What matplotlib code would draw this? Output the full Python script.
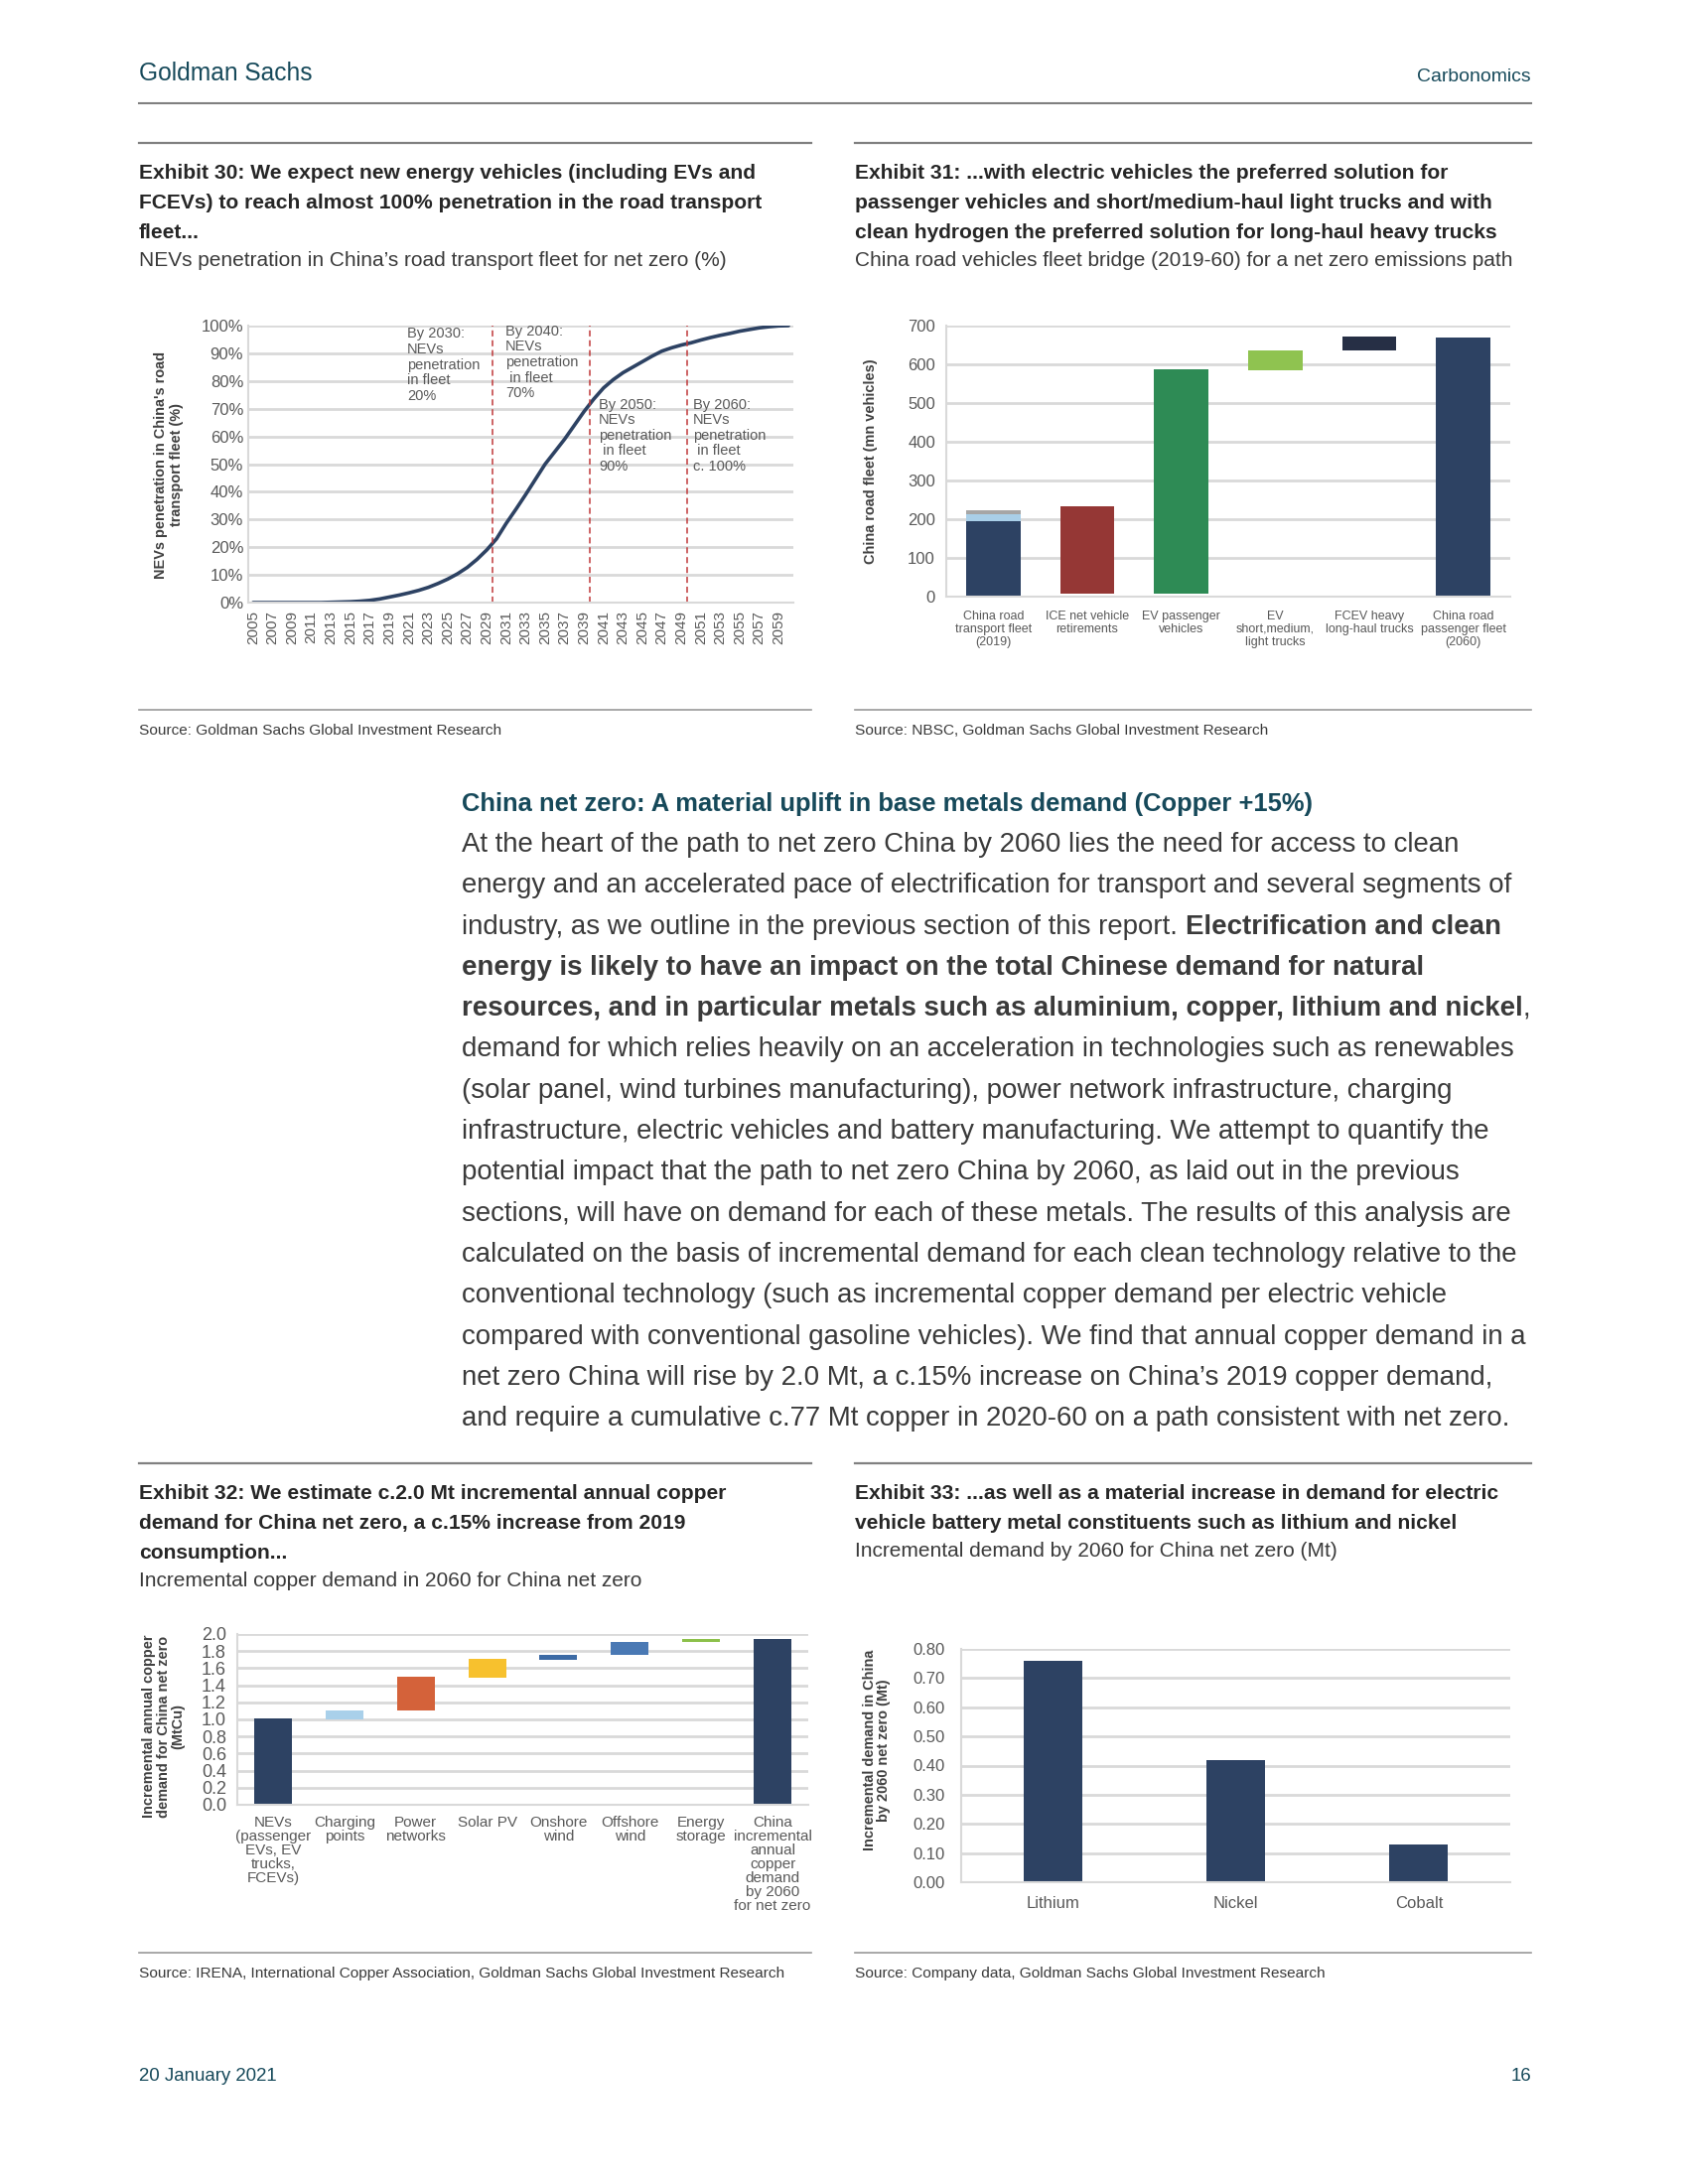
import matplotlib
matplotlib.use("Agg")
import matplotlib.pyplot as plt
from matplotlib import font_manager

W, H = 1700, 2200

# ---- data ----
nev_years = list(range(2005, 2061))
nev_share = [0.0, 0.0, 0.0, 0.0, 0.0, 0.0, 0.0, 0.0, 0.1, 0.2,
             0.3, 0.5, 0.8, 1.3, 2.0, 2.7, 3.5, 4.4, 5.5, 6.9,
             8.5, 10.4, 12.7, 15.6, 19.0, 23.0, 28.6, 33.7, 39.0, 44.5,
             50.0, 54.5, 59.0, 64.0, 69.0, 73.5, 77.5, 80.5, 83.0, 85.0,
             87.0, 89.0, 90.8, 92.0, 93.0, 93.8, 94.8, 95.7, 96.5, 97.2,
             98.0, 98.6, 99.2, 99.6, 99.9, 100.0]
nev_milestones = [2030, 2040, 2050]
nev_notes = ["By 2030:\nNEVs\npenetration\nin fleet\n20%",
             "By 2040:\nNEVs\npenetration\n in fleet\n70%",
             "By 2050:\nNEVs\npenetration\n in fleet\n90%",
             "By 2060:\nNEVs\npenetration\n in fleet\nc. 100%"]

fleet_labels = ["China road\ntransport fleet\n(2019)", "ICE net vehicle\nretirements",
                "EV passenger\nvehicles", "EV\nshort,medium,\nlight trucks",
                "FCEV heavy\nlong-haul trucks", "China road\npassenger fleet\n(2060)"]
fleet_2019_parts = [194, 20, 10]
fleet_step_low = [7, 7, 585, 636]
fleet_step_high = [234, 586, 637, 671]
fleet_2060 = 670

copper_labels = ["NEVs\n(passenger\nEVs, EV\ntrucks,\nFCEVs)", "Charging\npoints", "Power\nnetworks",
                 "Solar PV", "Onshore\nwind", "Offshore\nwind", "Energy\nstorage",
                 "China\nincremental\nannual\ncopper\ndemand\nby 2060\nfor net zero"]
copper_low = [0, 1.0, 1.105, 1.49, 1.70, 1.755, 1.905, 0]
copper_high = [1.015, 1.105, 1.50, 1.705, 1.76, 1.91, 1.945, 1.945]

metals = ["Lithium", "Nickel", "Cobalt"]
metal_demand = [0.76, 0.42, 0.13]

# ---- styles ----
NAVY = "#2d4263"
TEAL = "#16495a"
GRID = "#d9d9d9"
TICK = "#595959"
TXT = "#3a3a3a"
RULE = "#808080"

names = {f.name for f in font_manager.fontManager.ttflist}
NARROW = "Liberation Sans Narrow" if "Liberation Sans Narrow" in names else "Liberation Sans"
SANS = "Liberation Sans"

fig = plt.figure(figsize=(17, 22), dpi=100)
fig.patch.set_facecolor("white")
renderer = fig.canvas.get_renderer()


def rect(x0, y0, x1, y1):
    return [x0 / W, 1 - y1 / H, (x1 - x0) / W, (y1 - y0) / H]


def ftext(x, y, s, **kw):
    return fig.text(x / W, 1 - y / H, s, **kw)


def width_px(s, **kw):
    t = fig.text(0, 0, s, **kw)
    w = t.get_window_extent(renderer).width
    t.remove()
    return w


def fit(s, target, **kw):
    return 20 * target / width_px(s, fontsize=20, **kw)


def hline(x0, x1, y, lw=1.5, color=RULE):
    fig.add_artist(plt.Line2D([x0 / W, x1 / W], [1 - y / H, 1 - y / H], color=color, lw=lw))


def style_axes(ax):
    for s in ["top", "right"]:
        ax.spines[s].set_visible(False)
    for s in ["left", "bottom"]:
        ax.spines[s].set_color(GRID)
        ax.spines[s].set_linewidth(1.5)
    ax.grid(axis="y", color=GRID, lw=2)
    ax.set_axisbelow(True)
    ax.tick_params(length=0, labelsize=12, labelcolor=TICK)
    for lab in ax.get_xticklabels() + ax.get_yticklabels():
        lab.set_family(NARROW)


# ---- page furniture ----
ftext(140, 74, "Goldman Sachs", family=NARROW, color=TEAL, va="center",
      fontsize=fit("Goldman Sachs", 174, family=NARROW))
ftext(1542, 78, "Carbonomics", family=NARROW, color=TEAL, va="center", ha="right",
      fontsize=fit("Carbonomics", 114, family=NARROW))
hline(140, 1542, 104, lw=1.5)

title_fs = fit("Exhibit 30: We expect new energy vehicles (including EVs and", 622,
               family=NARROW, weight="bold")
sub_fs = fit("NEVs penetration in China\u2019s road transport fleet for net zero (%)", 592, family=NARROW)
src_fs = fit("Source: Goldman Sachs Global Investment Research", 363, family=NARROW)


def exhibit(x, ytop, lines, sub, ybot, src, x1):
    hline(x, x1, ytop, lw=1.6)
    y = ytop + 30
    for ln in lines:
        ftext(x, y, ln, family=NARROW, weight="bold", fontsize=title_fs, color="#262626", va="center")
        y += 30.5
    ftext(x, y - 3, sub, family=NARROW, fontsize=sub_fs, color=TXT, va="center")
    hline(x, x1, ybot, lw=1.2, color="#999999")
    ftext(x, ybot + 21, src, family=NARROW, fontsize=src_fs, color=TXT, va="center")


exhibit(140, 144, ["Exhibit 30: We expect new energy vehicles (including EVs and",
                   "FCEVs) to reach almost 100% penetration in the road transport",
                   "fleet..."],
        "NEVs penetration in China\u2019s road transport fleet for net zero (%)",
        715, "Source: Goldman Sachs Global Investment Research", 817)
exhibit(861, 144, ["Exhibit 31: ...with electric vehicles the preferred solution for",
                   "passenger vehicles and short/medium-haul light trucks and with",
                   "clean hydrogen the preferred solution for long-haul heavy trucks"],
        "China road vehicles fleet bridge (2019-60) for a net zero emissions path",
        715, "Source: NBSC, Goldman Sachs Global Investment Research", 1542)
exhibit(140, 1474, ["Exhibit 32: We estimate c.2.0 Mt incremental annual copper",
                    "demand for China net zero, a c.15% increase from 2019",
                    "consumption..."],
        "Incremental copper demand in 2060 for China net zero",
        1967, "Source: IRENA, International Copper Association, Goldman Sachs Global Investment Research", 817)
exhibit(861, 1474, ["Exhibit 33: ...as well as a material increase in demand for electric",
                    "vehicle battery metal constituents such as lithium and nickel"],
        "Incremental demand by 2060 for China net zero (Mt)",
        1967, "Source: Company data, Goldman Sachs Global Investment Research", 1542)

ftext(140, 2092, "20 January 2021", family=NARROW, color=TEAL, va="center",
      fontsize=fit("20 January 2021", 139, family=NARROW))
ftext(1542, 2092, "16", family=NARROW, color=TEAL, va="center", ha="right",
      fontsize=fit("20 January 2021", 139, family=NARROW))

# ---- body text ----
head = "China net zero: A material uplift in base metals demand (Copper +15%)"
ftext(465, 810, head, family=NARROW, weight="bold", color=TEAL, va="center",
      fontsize=fit(head, 857, family=NARROW, weight="bold"))

body = [
    [("At the heart of the path to net zero China by 2060 lies the need for access to clean", "normal")],
    [("energy and an accelerated pace of electrification for transport and several segments of", "normal")],
    [("industry, as we outline in the previous section of this report. ", "normal"),
     ("Electrification and clean", "bold")],
    [("energy is likely to have an impact on the total Chinese demand for natural", "bold")],
    [("resources, and in particular metals such as aluminium, copper, lithium and nickel", "bold"),
     (",", "normal")],
    [("demand for which relies heavily on an acceleration in technologies such as renewables", "normal")],
    [("(solar panel, wind turbines manufacturing), power network infrastructure, charging", "normal")],
    [("infrastructure, electric vehicles and battery manufacturing. We attempt to quantify the", "normal")],
    [("potential impact that the path to net zero China by 2060, as laid out in the previous", "normal")],
    [("sections, will have on demand for each of these metals. The results of this analysis are", "normal")],
    [("calculated on the basis of incremental demand for each clean technology relative to the", "normal")],
    [("conventional technology (such as incremental copper demand per electric vehicle", "normal")],
    [("compared with conventional gasoline vehicles). We find that annual copper demand in a", "normal")],
    [("net zero China will rise by 2.0 Mt, a c.15% increase on China\u2019s 2019 copper demand,", "normal")],
    [("and require a cumulative c.77 Mt copper in 2020-60 on a path consistent with net zero.", "normal")],
]
body_fs = fit(body[0][0][0], 1005, family=SANS)
y = 851
for line in body:
    x = 465
    for seg, wt in line:
        t = ftext(x, y, seg, family=SANS, weight=wt, fontsize=body_fs, color=TXT, va="center")
        x += t.get_window_extent(renderer).width
    y += 41.3

ylab_fs = fit("NEVs penetration in China's road", 229, family=SANS, weight="bold")

# ---- Exhibit 30 ----
ax1 = fig.add_axes(rect(250, 328, 799, 607))
ax1.plot(nev_years, nev_share, color=NAVY, lw=2.6, solid_capstyle="round")
ax1.set_xlim(2004.5, 2060.5)
ax1.set_ylim(0, 100)
ax1.set_yticks(range(0, 101, 10))
ax1.set_yticklabels([f"{v}%" for v in range(0, 101, 10)])
ax1.set_xticks(range(2005, 2060, 2))
ax1.set_xticklabels([str(v) for v in range(2005, 2060, 2)], rotation=90)
style_axes(ax1)
ax1.tick_params(axis="x", labelsize=11, pad=6)
for m in nev_milestones:
    ax1.axvline(m - 0.4, color="#c0393b", lw=1.1, ls=(0, (4, 2.5)))
for (nx, ny), note in zip([(2020.8, 99.5), (2030.9, 100.5), (2040.5, 74), (2050.2, 74)], nev_notes):
    ax1.text(nx, ny, note, family=NARROW, fontsize=10.5, color=TICK, va="top", ha="left", linespacing=1.15)
ftext(170, 468, "NEVs penetration in China's road\ntransport fleet (%)", rotation=90, ha="center",
      va="center", family=SANS, weight="bold", fontsize=ylab_fs, color="#404040", linespacing=1.1)

# ---- Exhibit 31 ----
ax2 = fig.add_axes(rect(953, 328, 1521, 601))
x2 = list(range(len(fleet_labels)))
bw = 0.58
base = 0
for part, col in zip(fleet_2019_parts, [NAVY, "#a9cfe8", "#a6a6a6"]):
    ax2.bar(x2[0], part, bottom=base, width=bw, color=col)
    base += part
step_cols = ["#953735", "#2e8b55", "#8fc350", "#262f45"]
for i, (lo, hi) in enumerate(zip(fleet_step_low, fleet_step_high)):
    ax2.bar(x2[i + 1], hi - lo, bottom=lo, width=bw, color=step_cols[i])
ax2.bar(x2[5], fleet_2060, width=bw, color=NAVY)
ax2.set_xlim(-0.5, 5.5)
ax2.set_ylim(0, 700)
ax2.set_yticks(range(0, 701, 100))
ax2.set_xticks(x2)
ax2.set_xticklabels(fleet_labels, linespacing=1.1)
style_axes(ax2)
ax2.tick_params(axis="x", labelsize=9, pad=10)
ax2.tick_params(axis="y", pad=8)
ftext(877, 465, "China road fleet (mn vehicles)", rotation=90, ha="center", va="center",
      family=SANS, weight="bold", fontsize=ylab_fs, color="#404040")

# ---- Exhibit 32 ----
ax3 = fig.add_axes(rect(239, 1646, 814, 1818))
x3 = list(range(len(copper_labels)))
cop_cols = [NAVY, "#a9d0ea", "#d4623a", "#f7c12e", "#3d6ba5", "#4a79b4", "#8cc04a", NAVY]
for i, (lo, hi) in enumerate(zip(copper_low, copper_high)):
    ax3.bar(x3[i], hi - lo, bottom=lo, width=0.53, color=cop_cols[i])
ax3.set_xlim(-0.5, 7.5)
ax3.set_ylim(0, 2.0)
ax3.set_yticks([v / 10 for v in range(0, 21, 2)])
ax3.set_yticklabels([f"{v / 10:.1f}" for v in range(0, 21, 2)])
ax3.set_xticks(x3)
ax3.set_xticklabels(copper_labels, linespacing=1.0, va="top")
style_axes(ax3)
ax3.tick_params(axis="x", labelsize=11, pad=8)
ax3.tick_params(axis="y", labelsize=13, pad=8)
ftext(165, 1739, "Incremental annual copper\ndemand for China net zero\n(MtCu)", rotation=90, ha="center",
      va="center", family=SANS, weight="bold", fontsize=ylab_fs, color="#404040", linespacing=1.05)

# ---- Exhibit 33 ----
ax4 = fig.add_axes(rect(968, 1661, 1521, 1896))
ax4.bar(range(len(metals)), metal_demand, width=0.32, color=NAVY)
ax4.set_xlim(-0.5, 2.5)
ax4.set_ylim(0, 0.8)
ax4.set_yticks([v / 100 for v in range(0, 81, 10)])
ax4.set_yticklabels([f"{v / 100:.2f}" for v in range(0, 81, 10)])
ax4.set_xticks(range(len(metals)))
ax4.set_xticklabels(metals)
style_axes(ax4)
ax4.tick_params(axis="x", labelsize=12, pad=10)
ax4.tick_params(axis="y", pad=12)
ftext(883, 1763, "Incremental demand in China\nby 2060 net zero (Mt)", rotation=90, ha="center",
      va="center", family=SANS, weight="bold", fontsize=ylab_fs, color="#404040", linespacing=1.05)

fig.savefig("out.png", dpi=100)
